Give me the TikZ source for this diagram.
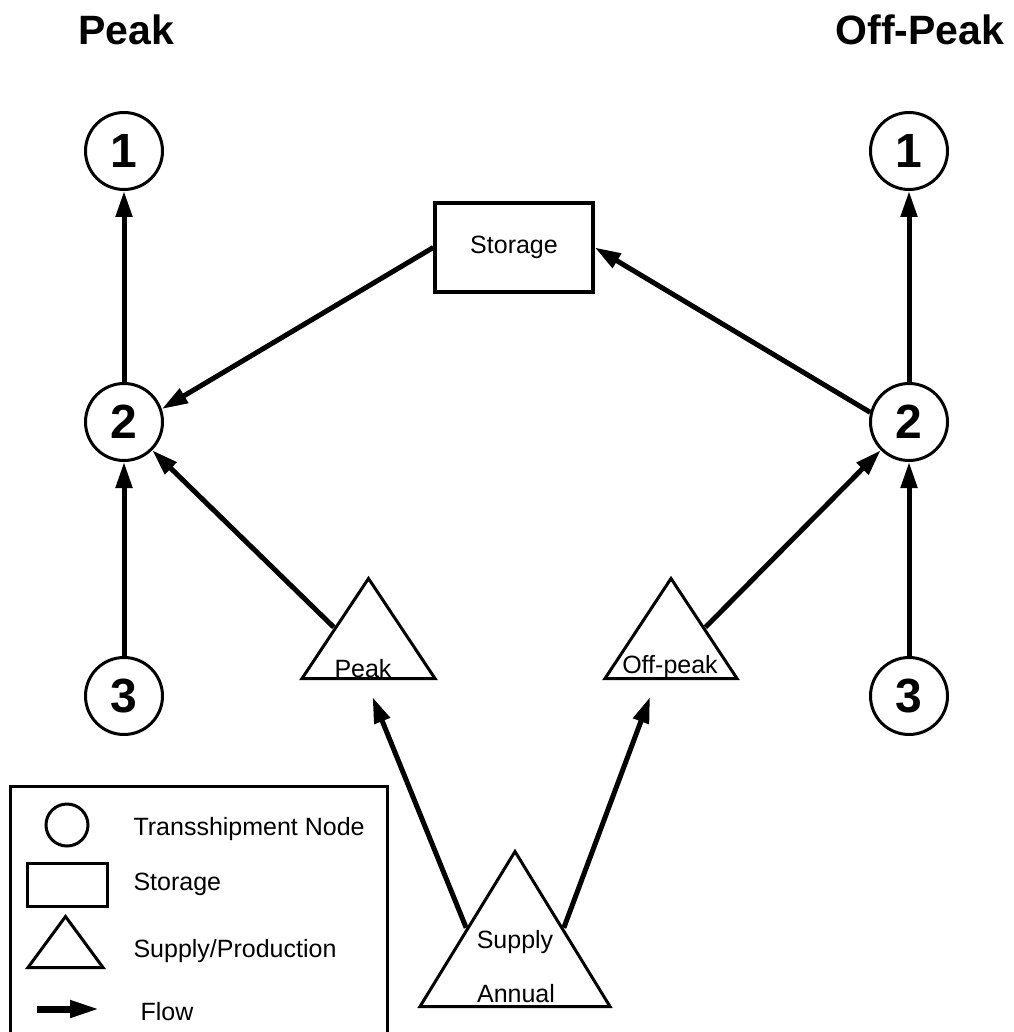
\documentclass[tikz,border=0pt]{standalone}
\usepackage{fontspec}
\setmainfont{Liberation Sans}
\usetikzlibrary{arrows.meta,shapes.geometric}
\tikzstyle{flow}=[line width=5pt,-{Triangle[length=26pt,width=16pt]}]

\begin{document}
\begin{tikzpicture}[x=1pt,y=1pt]
\tikzstyle{hub}=[shape=circle,draw=black,line width=3pt,minimum size=77pt,inner sep=0pt,font=\fontsize{48}{48}\selectfont\bfseries]
\tikzstyle{depot}=[shape=rectangle,draw=black,line width=3.5pt,minimum width=158pt,minimum height=89pt,font=\fontsize{25}{30}\selectfont]
\tikzstyle{source}=[shape=isosceles triangle,isosceles triangle stretches,shape border rotate=90,draw=black,line width=3pt,inner sep=0pt,anchor=lower side]
\tikzstyle{caption}=[anchor=base,font=\fontsize{25}{30}\selectfont]
\tikzstyle{title}=[anchor=base,font=\fontsize{41}{41}\selectfont\bfseries]
\useasboundingbox (0,-1032) rectangle (1013,0);
% titles
\node[title] (tpeak) at (126,-45) {Peak};
\node[title] (toff) at (920,-45) {Off-Peak};
% transshipment nodes
\node[hub] (L1) at (124,-151) {1};
\node[hub] (L2) at (124,-422) {2};
\node[hub] (L3) at (124,-696) {3};
\node[hub] (R1) at (909,-151) {1};
\node[hub] (R2) at (909,-422) {2};
\node[hub] (R3) at (909,-696) {3};
% storage and supply
\node[depot] (store) at (514,-247.5) {Storage};
\node[source,minimum width=133pt,minimum height=100pt] (pk) at (368.5,-680) {};
\node[source,minimum width=132pt,minimum height=100pt] (op) at (671,-680) {};
\node[source,minimum width=190pt,minimum height=155pt] (sup) at (515,-1008) {};
\node[caption] (pktxt) at (363,-677) {Peak};
\node[caption] (optxt) at (670,-673) {Off-peak};
\node[caption] (suptxt) at (515,-948) {Supply};
\node[caption] (anntxt) at (516,-1002) {Annual};
% flows
\draw[flow] (L3) -- (L2);
\draw[flow] (L2) -- (L1);
\draw[flow] (R3) -- (R2);
\draw[flow] (R2) -- (R1);
\draw[flow] (store.west) -- (L2.19);
\draw[flow] (R2.166) -- (store.east);
\draw[flow] (pk.left side) -- (L2.south east);
\draw[flow] (op.right side) -- (R2.south west);
\coordinate (pkin) at ([shift={(4,-17)}]pk.lower side);
\coordinate (opin) at ([shift={(-21,-17)}]op.lower side);
\draw[flow] (sup.left side) -- (pkin);
\draw[flow] (sup.right side) -- (opin);
% legend
\draw[line width=3pt] (10,-1040) |- (387,-786) -- (387,-1040);
\node[shape=circle,draw=black,line width=3pt,minimum size=42pt] (keyhub) at (67,-825) {};
\node[shape=rectangle,draw=black,line width=3pt,minimum width=80pt,minimum height=43pt] (keydepot) at (67,-884.5) {};
\node[source,minimum width=75pt,minimum height=51pt] (keysource) at (65.5,-969) {};
\coordinate (keya) at (37,-1009);
\coordinate (keyb) at (100,-1009);
\draw[line width=7pt,-{Triangle[length=30pt,width=16pt]}] (keya) -- (keyb);
\node[caption,anchor=base west] (keytxt1) at (130,-835) {Transshipment Node};
\node[caption,anchor=base west] (keytxt2) at (130,-890) {Storage};
\node[caption,anchor=base west] (keytxt3) at (130,-957) {Supply/Production};
\node[caption,anchor=base west] (keytxt4) at (137,-1020) {Flow};
\end{tikzpicture}
\end{document}
